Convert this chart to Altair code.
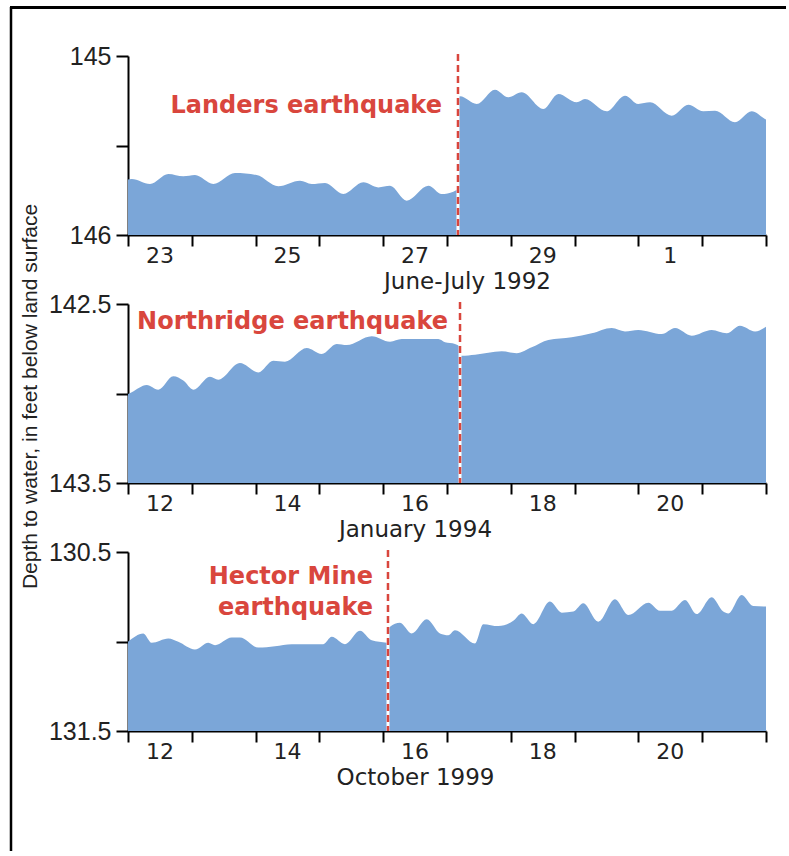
import altair as alt
import pandas as pd

BLUE = "#7ba6d8"
RED = "#d9463d"

# ---------- Panel 1: Landers, June 23 - July 2, 1992 ----------
p1_pre_day = [0, 0.058, 0.345, 0.632, 0.867, 1.050, 1.337, 1.677, 2.017, 2.356, 2.696,
              2.879, 3.088, 3.375, 3.688, 3.923, 4.107, 4.368, 4.707, 4.917, 5.099, 5.172]
p1_pre_depth = [145.69, 145.687, 145.715, 145.659, 145.672, 145.665, 145.715, 145.654, 145.665,
                145.728, 145.697, 145.715, 145.709, 145.771, 145.706, 145.734, 145.725, 145.808,
                145.725, 145.771, 145.758, 145.745]
p1_post_day = [5.172, 5.204, 5.466, 5.752, 5.961, 6.171, 6.509, 6.745, 7.033, 7.163, 7.503,
               7.790, 7.998, 8.182, 8.522, 8.782, 9.017, 9.201, 9.514, 9.776, 9.984, 10]
p1_post_depth = [145.228, 145.225, 145.268, 145.188, 145.231, 145.203, 145.296, 145.212, 145.259,
                 145.240, 145.309, 145.222, 145.268, 145.259, 145.334, 145.272, 145.309, 145.306,
                 145.370, 145.309, 145.352, 145.355]
p1_quake = 5.172
p1_label_day = [0.5, 2.5, 4.5, 6.5, 8.5]
p1_label_text = ["23", "25", "27", "29", "1"]
p1_title = "June-July 1992"
p1_note = ["Landers earthquake"]
p1_note_depth = [145.277]

# ---------- Panel 2: Northridge, January 12-21, 1994 ----------
p2_pre_day = [0, 0.058, 0.293, 0.475, 0.710, 0.867, 1.024, 1.285, 1.415, 1.755, 2.042, 2.277,
              2.461, 2.801, 3.036, 3.271, 3.428, 3.820, 4.107, 4.290, 4.864, 4.969, 5.125, 5.204]
p2_pre_depth = [143.003, 142.993, 142.953, 142.979, 142.904, 142.928, 142.979, 142.906, 142.923,
                142.830, 142.882, 142.817, 142.822, 142.746, 142.779, 142.723, 142.729, 142.680,
                142.711, 142.696, 142.696, 142.714, 142.723, 142.737]
p2_post_day = [5.204, 5.230, 5.439, 5.857, 6.092, 6.328, 6.588, 6.954, 7.268, 7.582, 7.790,
               7.998, 8.365, 8.574, 8.835, 9.149, 9.384, 9.592, 9.828, 10]
p2_post_depth = [142.789, 142.789, 142.783, 142.764, 142.775, 142.742, 142.701, 142.686, 142.664,
                 142.634, 142.653, 142.645, 142.668, 142.634, 142.677, 142.645, 142.664, 142.621,
                 142.653, 142.627]
p2_quake = 5.204
p2_label_day = [0.5, 2.5, 4.5, 6.5, 8.5]
p2_label_text = ["12", "14", "16", "18", "20"]
p2_title = "January 1994"
p2_note = ["Northridge earthquake"]
p2_note_depth = [142.600]

# ---------- Panel 3: Hector Mine, October 12-21, 1999 ----------
p3_pre_day = [0, 0.240, 0.371, 0.632, 0.788, 1.050, 1.259, 1.364, 1.625, 1.755, 2.042, 2.304,
              2.566, 3.061, 3.193, 3.401, 3.636, 3.820, 4.055, 4.075]
p3_pre_depth = [131.002, 130.955, 131.007, 130.983, 131.002, 131.045, 131.007, 131.021, 130.978,
                130.978, 131.034, 131.026, 131.015, 131.015, 130.974, 131.015, 130.940, 130.993,
                131.007, 131.008]
p3_post_day = [4.075, 4.107, 4.263, 4.447, 4.682, 4.890, 5.020, 5.125, 5.439, 5.569, 5.804,
               6.039, 6.171, 6.353, 6.614, 6.798, 6.980, 7.136, 7.371, 7.633, 7.842, 8.155,
               8.339, 8.522, 8.730, 8.914, 9.149, 9.330, 9.409, 9.619, 9.801, 10]
p3_post_depth = [130.927, 130.917, 130.895, 130.955, 130.876, 130.955, 130.965, 130.937, 131.011,
                 130.903, 130.914, 130.884, 130.843, 130.903, 130.777, 130.839, 130.833, 130.787,
                 130.889, 130.764, 130.852, 130.783, 130.828, 130.828, 130.768, 130.847, 130.753,
                 130.833, 130.843, 130.740, 130.802, 130.805]
p3_quake = 4.075
p3_label_day = [0.5, 2.5, 4.5, 6.5, 8.5]
p3_label_text = ["12", "14", "16", "18", "20"]
p3_title = "October 1999"
p3_note = ["Hector Mine", "earthquake"]
p3_note_depth = [130.641, 130.815]

Y_TITLE = "Depth to water, in feet below land surface"
W, H = 638, 179
SANS = "Liberation Sans, Arial, sans-serif"
DV = "DejaVu Sans, sans-serif"


def panel(pre_day, pre_depth, post_day, post_depth, quake, ylo, yfmt, label_day, label_text,
          xtitle, xtitle_x, notes, note_depths, note_dx, ytitle=None, frame=False):
    yhi = ylo + 1
    df = pd.concat([
        pd.DataFrame({"day": pre_day, "depth": pre_depth, "seg": "before"}),
        pd.DataFrame({"day": post_day, "depth": post_depth, "seg": "after"}),
    ])
    xscale = alt.Scale(domain=[0, 10], nice=False, zero=False)
    yscale = alt.Scale(domain=[ylo, yhi], reverse=True, nice=False, zero=False)
    yaxis_kw = dict(
        values=[ylo, ylo + 0.5, yhi],
        labelExpr="datum.value == %s ? '' : format(datum.value, '%s')" % (ylo + 0.5, yfmt),
        tickSize=12, labelPadding=5, labelFont=SANS, labelFontSize=25,
    )
    if ytitle:
        yaxis_kw.update(title=ytitle, titleX=-98, titleY=92, titleAngle=270,
                        titleBaseline="middle", titleAlign="center",
                        titleFont=SANS, titleFontSize=21,
                        titleFontWeight="normal", titleColor="#222")
    else:
        yaxis_kw.update(title=None)
    xaxis = alt.Axis(
        values=list(range(11)), labels=False, tickSize=11,
        title=xtitle, titleX=xtitle_x, titleY=46, titleBaseline="middle",
        titleAlign="center", titleFont=DV, titleFontSize=23,
        titleFontWeight="normal", titleColor="#222")
    yaxis = alt.Axis(**yaxis_kw)
    X = alt.X("day:Q", scale=xscale, axis=xaxis)
    area = alt.Chart(df).mark_area(color=BLUE, interpolate="monotone", opacity=1).encode(
        x=X,
        y=alt.Y("depth:Q", stack=None, scale=yscale, axis=yaxis),
        y2=alt.datum(yhi),
        detail="seg:N",
    )
    ldf = pd.DataFrame({"day": label_day, "text": label_text})
    daylabels = alt.Chart(ldf).mark_text(
        baseline="top", align="center", font=DV, fontSize=22, color="#222").encode(
        x=X, y=alt.value(H + 11), text="text:N")
    qdf = pd.DataFrame({"day": [quake]})
    white = alt.Chart(qdf).mark_rule(color="white", strokeWidth=3).encode(
        x=X, y=alt.value(0), y2=alt.value(H))
    dash = alt.Chart(qdf).mark_rule(color=RED, strokeWidth=2.5, strokeDash=[7, 4]).encode(
        x=X, y=alt.value(-2), y2=alt.value(H))
    ndf = pd.DataFrame({"day": [quake] * len(notes), "depth": note_depths, "text": notes})
    text = alt.Chart(ndf).mark_text(
        align="right", baseline="middle", dx=note_dx, font=DV,
        fontWeight="bold", fontSize=24, color=RED).encode(
        x=X, y=alt.Y("depth:Q", scale=yscale, axis=yaxis), text="text:N")
    layers = [area, white, dash, text, daylabels]
    if frame:
        one = pd.DataFrame({"a": [0]})
        top = alt.Chart(one).mark_rule(color="black", strokeWidth=3).encode(
            x=alt.value(-118), x2=alt.value(658), y=alt.value(-48.5))
        left = alt.Chart(one).mark_rule(color="black", strokeWidth=2.5).encode(
            x=alt.value(-117), y=alt.value(-49), y2=alt.value(795))
        layers += [top, left]
    return alt.layer(*layers).properties(width=W, height=H)


c1 = panel(p1_pre_day, p1_pre_depth, p1_post_day, p1_post_depth, p1_quake, 145, ".0f",
           p1_label_day, p1_label_text, p1_title, 339, p1_note, p1_note_depth, -16, frame=True)
c2 = panel(p2_pre_day, p2_pre_depth, p2_post_day, p2_post_depth, p2_quake, 142.5, ".1f",
           p2_label_day, p2_label_text, p2_title, 287, p2_note, p2_note_depth, -12,
           ytitle=Y_TITLE)
c3 = panel(p3_pre_day, p3_pre_depth, p3_post_day, p3_post_depth, p3_quake, 130.5, ".1f",
           p3_label_day, p3_label_text, p3_title, 287, p3_note, p3_note_depth, -15)

chart = alt.vconcat(c1, c2, c3, spacing=69, bounds="flush").properties(
    padding={"left": 8, "top": 5, "right": 0, "bottom": 0},
    background="white",
).configure_view(stroke=None).configure_axis(
    grid=False, domainColor="black", domainWidth=2, tickColor="black", tickWidth=2,
    labelColor="#222",
)

chart.save("out.html", embed_options={"renderer": "svg", "actions": False})
